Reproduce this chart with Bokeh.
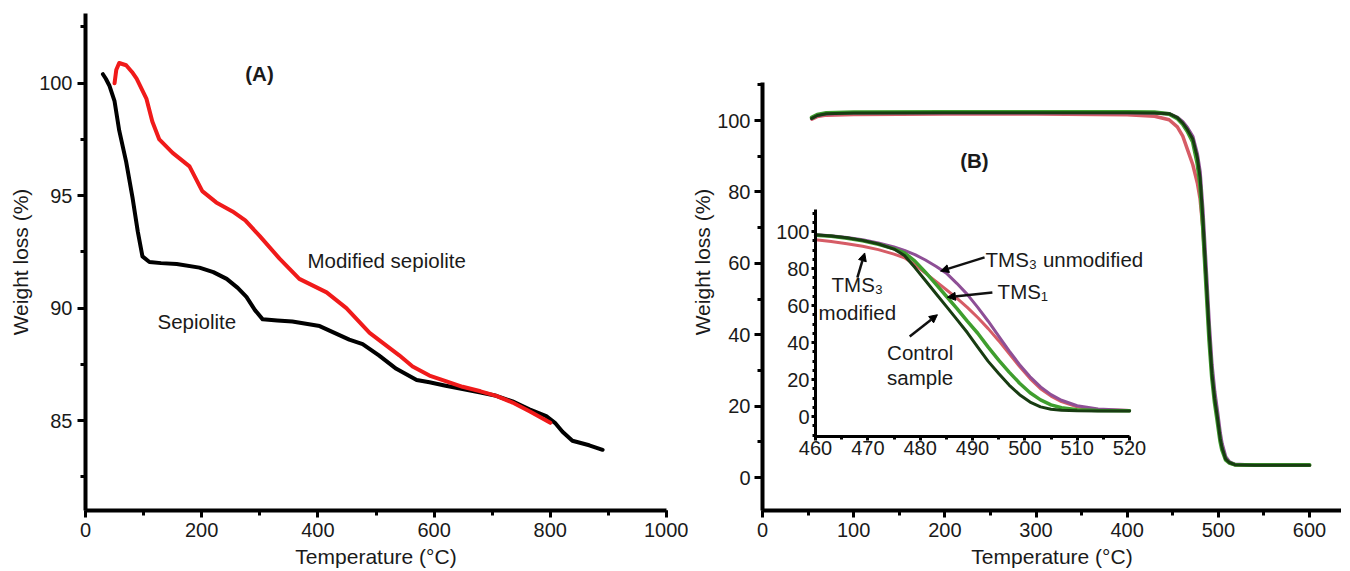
from bokeh.plotting import figure
from bokeh.layouts import row
from bokeh.models import (Range1d, LinearAxis, SingleIntervalTicker, Label,
                          Arrow, NormalHead)
from bokeh.embed import file_html
from bokeh.resources import INLINE

FONT = "Liberation Sans"

# ---------------- Panel A data ----------------
SEP_T = [30, 35, 41, 50, 58, 70, 81, 90, 98, 110, 130, 157, 196, 220, 243, 262,
         277, 292, 305, 330, 356, 403, 420, 454, 477, 505, 535, 570, 592, 620,
         649, 680, 707, 735, 764, 793, 808, 821, 838, 867, 890]
SEP_W = [100.4, 100.2, 99.9, 99.2, 97.9, 96.5, 94.9, 93.4, 92.3, 92.05, 92.0,
         91.96, 91.8, 91.6, 91.3, 90.9, 90.5, 89.9, 89.5, 89.45, 89.4, 89.2,
         89.0, 88.6, 88.4, 87.9, 87.3, 86.8, 86.7, 86.55, 86.4, 86.25, 86.1,
         85.85, 85.5, 85.2, 84.9, 84.5, 84.1, 83.9, 83.7]

MOD_T = [50, 53, 58, 70, 80, 88, 105, 115, 127, 150, 179, 201, 225, 253, 275,
         300, 334, 368, 415, 449, 489, 540, 563, 592, 620, 649, 680, 707, 735,
         765, 793, 800]
MOD_W = [100.0, 100.6, 100.9, 100.8, 100.5, 100.2, 99.3, 98.3, 97.5, 96.9,
         96.3, 95.2, 94.7, 94.3, 93.9, 93.2, 92.2, 91.3, 90.7, 90.0, 88.9, 87.9,
         87.4, 87.0, 86.75, 86.5, 86.3, 86.1, 85.8, 85.4, 85.0, 84.9]

# ---------------- Panel B main data ----------------
B_T = [54, 60, 70, 100, 200, 300, 400, 430, 446, 455, 461, 466, 472, 477, 480,
       483, 487, 490, 493, 496, 499, 502, 504, 508, 512, 518, 540, 600]
B_CONTROL = [100.6, 101.4, 101.9, 102.1, 102.2, 102.2, 102.2, 102.1, 101.9,
             100.8, 99.3, 97.5, 94.8, 89.6, 84, 72.5, 54, 40.3, 29, 22, 16.8,
             11, 8.4, 5.2, 4.2, 3.6, 3.4, 3.4]
B_TMS1 = [100.8, 101.6, 102.1, 102.3, 102.4, 102.4, 102.4, 102.3, 101.8, 100.6,
          99.0, 97.0, 94.0, 88.0, 82.0, 70.5, 52, 38.5, 28, 21, 15.8, 10.3, 7.8,
          5.0, 4.1, 3.6, 3.5, 3.5]
B_TMS3_UNMOD = [100.6, 101.4, 101.9, 102.1, 102.2, 102.2, 102.2, 102.1, 101.9,
                100.9, 99.6, 98.0, 95.5, 90.5, 85.5, 75, 57, 43, 31.5, 24, 18.5,
                12.5, 9.5, 5.8, 4.4, 3.7, 3.4, 3.4]
B_TMS3_MOD = [100.4, 101.1, 101.5, 101.7, 101.8, 101.8, 101.6, 101.2, 100.2,
              98.2, 95.6, 92.0, 87.6, 82.5, 78, 70, 53.5, 40, 29, 22, 16.8, 11,
              8.4, 5.2, 4.2, 3.6, 3.4, 3.4]

# ---------------- Inset data ----------------
IN_T = [460, 463, 466, 469, 472, 475, 477, 479, 481, 483, 485, 487, 489, 491,
        493, 495, 497, 499, 501, 503, 505, 507, 510, 514, 520]
IN_CONTROL = [98.2, 97.6, 96.6, 95.2, 93.3, 90.5, 87, 80.5, 73.5, 66.5, 59.5,
              52.5, 45.4, 37.5, 29.8, 23.2, 17, 11.8, 7.8, 5.2, 3.9, 3.4, 3.1,
              3.0, 3.0]
IN_TMS1 = [98.0, 97.4, 96.4, 95.0, 93.1, 90.6, 88.5, 84, 78, 71.5, 65, 58.5,
           51.5, 45, 37.5, 30.5, 24, 18, 12.8, 9, 6.3, 4.7, 3.6, 3.2, 3.1]
IN_TMS3_UNMOD = [98.2, 97.7, 96.8, 95.5, 93.8, 91.6, 89.8, 87.5, 84.6, 81.2,
                 77.5, 72, 66, 59, 51.5, 43.5, 35.5, 28, 21.5, 16, 11.8, 8.8,
                 5.8, 4.0, 3.3]
IN_TMS3_MOD = [95.5, 94.6, 93.4, 92, 90.2, 87.8, 85.8, 82, 77.5, 73, 68.5, 64,
               59, 53.5, 47.5, 41, 34, 27, 20.5, 15, 11, 8, 5.2, 3.7, 3.2]

# ---------------- layout constants ----------------
TOP, BOTTOM = 13, 57
FH = 497
FW_A, FW_B = 581, 579
LEFT_A, RIGHT_A, LEFT_B = 85, 22, 66
# panel B main scale (frame-relative pixels)
B_X600_PX = 547
B_Y0_PX, B_Y100_PX = 464, 107
B_AXIS_TOP = 110.6
# inset placement inside panel B frame (pixels from frame left / top)
IN_X460_PX, IN_X520_PX = 53, 367
IN_Y0_PX, IN_Y100_PX = 403, 218
IN_YMIN, IN_YMAX = -10.8, 111.9

TICK_FS, AXLAB_FS, NOTE_FS = "20px", "21px", "20.5px"

COL_RED_A = "#f01a1a"
COL_CONTROL = "#183c12"
COL_TMS1 = "#3f9e2e"
COL_UNMOD = "#8e4f96"
COL_MOD = "#d65c66"
TXT = "#1a1a1a"


def style_axis(ax, tick_out=8, minor_out=5, lw=4, standoff=5, label_standoff=4):
    ax.axis_line_width = lw
    ax.axis_line_color = "black"
    ax.major_tick_line_width = 3
    ax.minor_tick_line_width = 3
    ax.major_tick_line_color = "black"
    ax.minor_tick_line_color = "black"
    ax.major_tick_out = tick_out
    ax.major_tick_in = 0
    ax.minor_tick_out = minor_out
    ax.minor_tick_in = 0
    ax.major_label_text_font = FONT
    ax.major_label_text_font_size = TICK_FS
    ax.major_label_text_color = TXT
    ax.major_label_standoff = standoff
    ax.axis_label_text_font = FONT
    ax.axis_label_text_font_size = AXLAB_FS
    ax.axis_label_text_font_style = "normal"
    ax.axis_label_text_color = TXT
    ax.axis_label_standoff = label_standoff


def base_fig(fw, xr, yr, left, right):
    p = figure(frame_width=fw, frame_height=FH, x_range=xr, y_range=yr,
               min_border_left=left, min_border_right=right,
               min_border_top=TOP, min_border_bottom=BOTTOM,
               output_backend="svg", toolbar_location=None,
               x_axis_label="Temperature (°C)", y_axis_label="Weight loss (%)")
    p.xgrid.visible = False
    p.ygrid.visible = False
    p.outline_line_color = None
    p.background_fill_color = "white"
    p.border_fill_color = "white"
    return p


def lab(p, x, y, text, bold=False, align="left", **kw):
    p.add_layout(Label(x=x, y=y, text=text, text_font=FONT,
                       text_font_size=NOTE_FS, text_color=TXT,
                       text_font_style="bold" if bold else "normal",
                       text_align=align, text_baseline="middle", **kw))


# ---------------- Panel A ----------------
pA = base_fig(FW_A, Range1d(0, 1000), Range1d(81, 103.1), LEFT_A, RIGHT_A)
pA.xaxis.ticker = SingleIntervalTicker(interval=200, num_minor_ticks=2)
pA.yaxis.ticker = SingleIntervalTicker(interval=5, num_minor_ticks=2)
style_axis(pA.xaxis[0], tick_out=7, minor_out=5, standoff=5, label_standoff=5)
style_axis(pA.yaxis[0], tick_out=8, minor_out=5, standoff=5, label_standoff=4)

pA.line(SEP_T, SEP_W, line_color="black", line_width=4, line_join="round",
        line_cap="round")
pA.line(MOD_T, MOD_W, line_color=COL_RED_A, line_width=4, line_join="round",
        line_cap="round")

lab(pA, 299.5, 100.45, "(A)", bold=True, align="center")
lab(pA, 382, 92.1, "Modified sepiolite")
lab(pA, 124, 89.4, "Sepiolite")

# ---------------- Panel B ----------------
kb = 100 / (B_Y0_PX - B_Y100_PX)
pB = base_fig(FW_B, Range1d(0, FW_B * 600 / B_X600_PX),
              Range1d(-(FH - B_Y0_PX) * kb, B_Y0_PX * kb), LEFT_B, 0)
pB.xaxis.ticker = SingleIntervalTicker(interval=100, num_minor_ticks=2)
pB.yaxis.ticker = SingleIntervalTicker(interval=20, num_minor_ticks=2)
pB.yaxis.bounds = (-(FH - B_Y0_PX) * kb, B_AXIS_TOP)
style_axis(pB.xaxis[0], tick_out=7, minor_out=5, standoff=5, label_standoff=5)
style_axis(pB.yaxis[0], tick_out=8, minor_out=5, standoff=4, label_standoff=0)

for ys, col, w in [(B_TMS3_MOD, COL_MOD, 3.5), (B_TMS3_UNMOD, COL_UNMOD, 3.5),
                   (B_TMS1, COL_TMS1, 4), (B_CONTROL, COL_CONTROL, 3)]:
    pB.line(B_T, ys, line_color=col, line_width=w, line_join="round",
            line_cap="round")

lab(pB, 232.5, 88.8, "(B)", bold=True, align="center")

# inset coordinate system mapped into a sub-rectangle of the frame
kx = (520 - 460) / (IN_X520_PX - IN_X460_PX)
ky = 100 / (IN_Y0_PX - IN_Y100_PX)
pB.extra_x_ranges = {"ix": Range1d(460 - IN_X460_PX * kx,
                                   460 + (FW_B - IN_X460_PX) * kx)}
pB.extra_y_ranges = {"iy": Range1d(-(FH - IN_Y0_PX) * ky, IN_Y0_PX * ky)}

ax_ix = LinearAxis(x_range_name="ix", y_range_name="iy", fixed_location=IN_YMIN,
                   bounds=(460, 520),
                   ticker=SingleIntervalTicker(interval=10, num_minor_ticks=2))
style_axis(ax_ix, tick_out=4, minor_out=3, lw=3, standoff=1)
pB.add_layout(ax_ix, "below")
ax_iy = LinearAxis(x_range_name="ix", y_range_name="iy", fixed_location=460,
                   bounds=(IN_YMIN, IN_YMAX),
                   ticker=SingleIntervalTicker(interval=20, num_minor_ticks=4))
style_axis(ax_iy, tick_out=4, minor_out=3, lw=3, standoff=2)
pB.add_layout(ax_iy, "left")

for ys, col, w in [(IN_TMS3_MOD, COL_MOD, 3), (IN_TMS3_UNMOD, COL_UNMOD, 3),
                   (IN_TMS1, COL_TMS1, 3.5), (IN_CONTROL, COL_CONTROL, 3)]:
    pB.line(IN_T, ys, line_color=col, line_width=w, line_join="round",
            line_cap="round", x_range_name="ix", y_range_name="iy")

ikw = dict(x_range_name="ix", y_range_name="iy")
lab(pB, 492.5, 84.9, "TMS\u2083 unmodified", **ikw)
lab(pB, 494.8, 67.6, "TMS\u2081", **ikw)
lab(pB, 468.0, 71.4, "TMS\u2083", align="center", **ikw)
lab(pB, 468.0, 56.2, "modified", align="center", **ikw)
lab(pB, 480.0, 34.6, "Control", align="center", **ikw)
lab(pB, 480.0, 21.1, "sample", align="center", **ikw)

ARROWS = [((492.3, 86.0), (483.9, 78.6)),
          ((493.8, 67.0), (485.2, 64.5)),
          ((468.0, 75.1), (469.4, 88.4)),
          ((478.0, 43.2), (483.3, 55.0))]
for (xs, ys), (xe, ye) in ARROWS:
    pB.add_layout(Arrow(end=NormalHead(size=8, fill_color="black",
                                       line_color="black", line_width=1),
                        x_start=xs, y_start=ys, x_end=xe, y_end=ye,
                        line_width=2.5, line_color="#111111", **ikw))

layout = row(pA, pB)
open("out.html", "w").write(file_html(layout, INLINE))
